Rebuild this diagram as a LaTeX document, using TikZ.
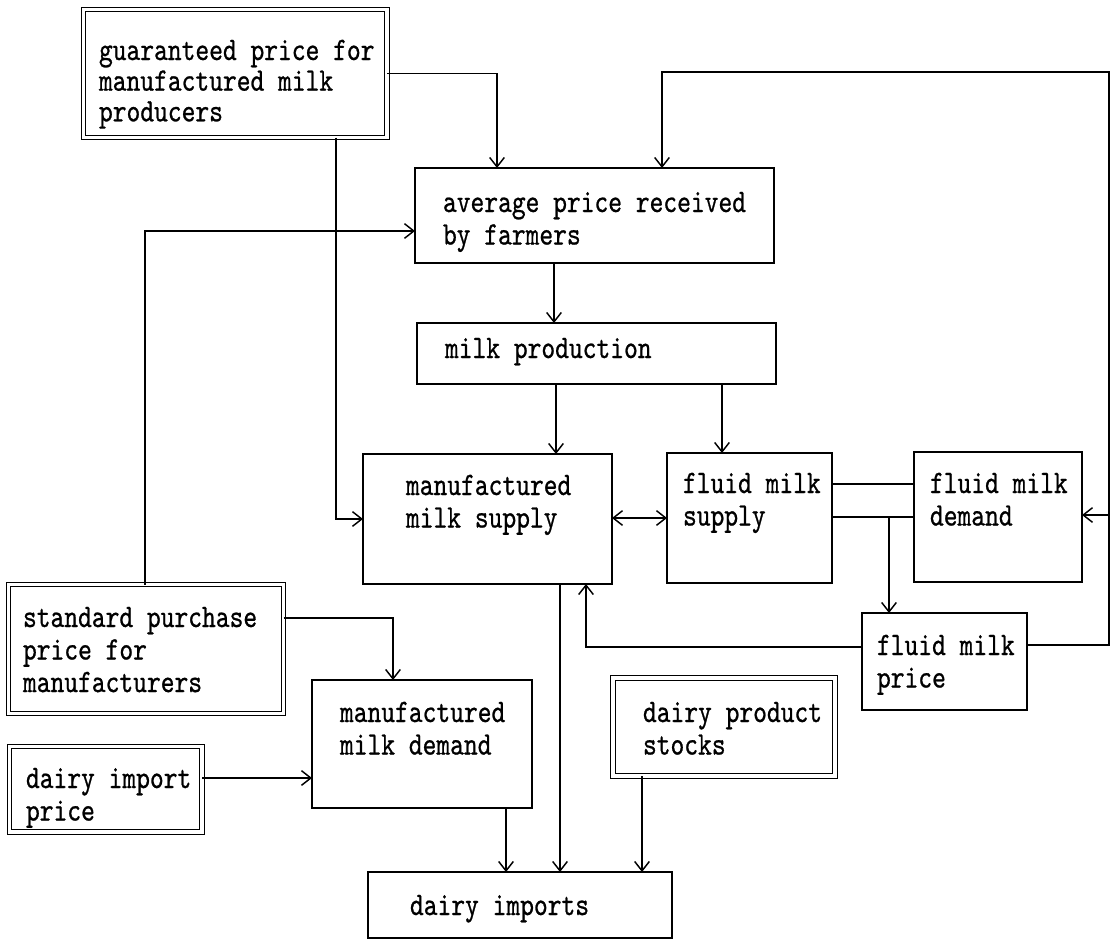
\documentclass[tikz,border=0pt]{standalone}
\usepackage{fontspec}
\newfontfamily\tfont{lmmono10-regular}[Extension=.otf,FakeStretch=0.8,FakeBold=0.7]
\usetikzlibrary{arrows.meta,fit}
\newcommand\mlines[1]{\vtop{\halign{##\hfil\cr#1\crcr}}}
\tikzset{
  box/.style={draw, line width=1.1pt, inner sep=0pt, outer sep=0pt},
  dbox/.style={draw, double, double distance=2.4pt, line width=0.9pt, inner sep=0pt, outer sep=0pt},
  arr/.style={-{Straight Barb[length=7pt,width=11pt]}, line width=1.1pt},
  arrtwo/.style={{Straight Barb[length=7pt,width=11pt]}-{Straight Barb[length=7pt,width=11pt]}, line width=1.1pt},
  ln/.style={line width=1.1pt},
  txt/.style={inner sep=0pt, outer sep=0pt, anchor=base west, font=\tfont\fontsize{24.6pt}{24.4pt}\selectfont},
}
\begin{document}
\begin{tikzpicture}[x=0.75pt,y=-0.75pt]
\fill[white] (0,0) rectangle (1110,940);
\useasboundingbox (0,0) rectangle (1110,940);
% boxes
\node[dbox, fit={(83.5,9.5) (387,137.5)}] (gp) {};
\node[box, fit={(415,168) (774,263)}] (avg) {};
\node[box, fit={(417,323) (776,384)}] (mp) {};
\node[box, fit={(363,454) (612,584)}] (ms) {};
\node[box, fit={(667,453) (832,583)}] (fs) {};
\node[box, fit={(914,452) (1082,582)}] (fd) {};
\node[box, fit={(862,613) (1027,710)}] (fp) {};
\node[dbox, fit={(8.5,584.5) (283.5,713.5)}] (sp) {};
\node[box, fit={(312,680) (532,808)}] (md) {};
\node[dbox, fit={(9.5,746.5) (202,832)}] (dip) {};
\node[dbox, fit={(613,678) (835,776)}] (ds) {};
\node[box, fit={(368,872) (672,938)}] (di) {};
% texts
\node[txt, font=\tfont\fontsize{24.6pt}{23pt}\selectfont] (gp-t) at (99,60) {\mlines{guaranteed price for\cr manufactured milk\cr producers}};
\node[txt] (avg-t) at (443,212) {\mlines{average price received\cr by farmers}};
\node[txt] (mp-t) at (445,358) {\mlines{milk production}};
\node[txt] (ms-t) at (406,495) {\mlines{manufactured\cr milk supply}};
\node[txt] (fs-t) at (683,493) {\mlines{fluid milk\cr supply}};
\node[txt] (fd-t) at (930,493) {\mlines{fluid milk\cr demand}};
\node[txt] (fp-t) at (877,655) {\mlines{fluid milk\cr price}};
\node[txt] (sp-t) at (23,627) {\mlines{standard purchase\cr price for\cr manufacturers}};
\node[txt] (md-t) at (340,722) {\mlines{manufactured\cr milk demand}};
\node[txt] (dip-t) at (26,788) {\mlines{dairy import\cr price}};
\node[txt] (ds-t) at (643,722) {\mlines{dairy product\cr stocks}};
\node[txt] (di-t) at (410,915) {\mlines{dairy imports}};
% helper coordinates
\coordinate (rtop) at (1109,72);
\coordinate (rmid) at (1109,515);
\coordinate (fj) at (889,517);
% connectors
\draw[arr] (gp.east) -| (avg.north -| 497,0);
\draw[arr] (gp.south -| 336,0) |- (ms.west);
\draw[arr] (sp.north -| 145,0) |- (avg.west |- 0,231);
\draw[arr] (avg.south -| 554,0) -- (mp.north -| 554,0);
\draw[arr] (mp.south -| 556,0) -- (ms.north -| 556,0);
\draw[arr] (mp.south -| 722,0) -- (fs.north -| 722,0);
\draw[arrtwo] (ms.east |- 0,518) -- (fs.west |- 0,518);
\draw[ln] (fs.east |- 0,484) -- (fd.west |- 0,484);
\draw[ln] (fs.east |- 0,517) -- (fd.west |- 0,517);
\draw[arr] (fj) -- (fp.north -| fj);
\draw[arr] (fp.west |- 0,647) -| (ms.south -| 586,0);
\draw[arr] (fp.east |- 0,645) -| (rtop) -| (avg.north -| 662,0);
\draw[arr] (rmid) -- (fd.east |- rmid);
\draw[arr] (sp.east |- 0,618) -| (md.north -| 393,0);
\draw[arr] (dip.east |- 0,778) -- (md.west |- 0,778);
\draw[arr] (md.south -| 506,0) -- (di.north -| 506,0);
\draw[arr] (ms.south -| 560,0) -- (di.north -| 560,0);
\draw[arr] (ds.south -| 642,0) -- (di.north -| 642,0);
\end{tikzpicture}
\end{document}
